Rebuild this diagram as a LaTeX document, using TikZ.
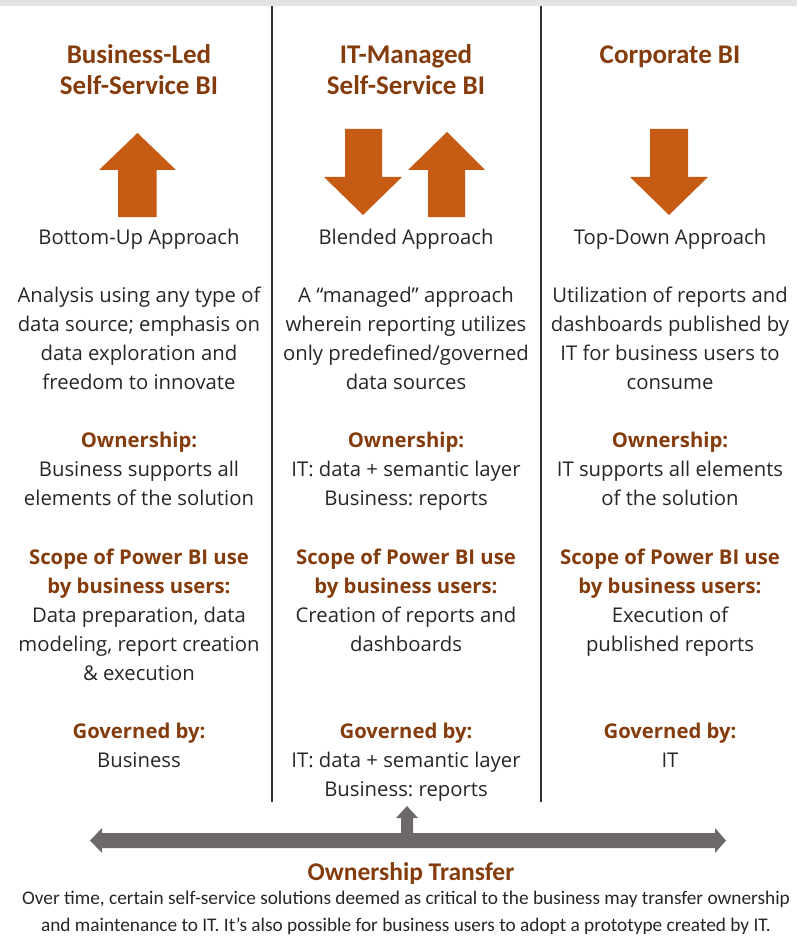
\documentclass[tikz,border=0pt]{standalone}
\usepackage{fontspec}
\setmainfont{Open Sans}
\newfontfamily\titlefont{Carlito}
\frenchspacing
\definecolor{brownT}{HTML}{843C0C}
\definecolor{orangeA}{HTML}{C65B14}
\definecolor{grayA}{HTML}{6D696A}
\definecolor{bodyT}{HTML}{262626}
\definecolor{bandG}{HTML}{E3E3E3}
\begin{document}
\begin{tikzpicture}[x=1pt,y=-1pt,
  title/.style={font=\titlefont\bfseries\fontsize{27}{31}\selectfont, text=brownT, align=center, anchor=base, inner sep=0},
  body/.style={font=\frenchspacing\fontsize{20.3}{28.9}\selectfont, text=bodyT, align=center, anchor=base, inner sep=0},
  orangearrow/.style={fill=orangeA, draw=none},
  grayarrow/.style={fill=grayA, draw=none},
  divider/.style={draw=black!80, line width=1.5pt},
  foot/.style={font=\titlefont\fontsize{19.3}{27}\selectfont, text=bodyT, align=center, anchor=base, inner sep=0}
]
\useasboundingbox (0,0) rectangle (797,936);
\fill[bandG] (0,0) rectangle (797,6);
% dividers
\coordinate (d1t) at (272,6); \coordinate (d1b) at (272,802);
\coordinate (d2t) at (541,6); \coordinate (d2b) at (541,802);
\draw[divider] (d1t) -- (d1b);
\draw[divider] (d2t) -- (d2b);
% titles (base = last line)
\node[title] (t1) at (139,95) {Business-Led\\Self-Service BI};
\node[title] (t2) at (406,95) {IT-Managed\\Self-Service BI};
\node[title] (t3) at (670,64) {Corporate BI};
% orange arrows
\fill[orangearrow] (137.5,133) -- (176,170) -- (156.5,170) -- (156.5,217) -- (118,217) -- (118,170) -- (99,170) -- cycle;
\fill[orangearrow] (345,129) -- (382,129) -- (382,177) -- (402,177) -- (363,215) -- (324,177) -- (345,177) -- cycle;
\fill[orangearrow] (447,132) -- (485,170) -- (465,170) -- (465,217) -- (428,217) -- (428,170) -- (408,170) -- cycle;
\fill[orangearrow] (650,129) -- (688,129) -- (688,177) -- (708,177) -- (669,215) -- (630,177) -- (650,177) -- cycle;
% approaches
\node[body] (a1) at (139,244) {Bottom-Up Approach};
\node[body] (a2) at (406,244) {Blended Approach};
\node[body] (a3) at (670,244) {Top-Down Approach};
% descriptions (base = last line)
\node[body] (s1) at (139,389) {Analysis using any type of\\data source; emphasis on\\data exploration and\\freedom to innovate};
\node[body] (s2) at (406,389) {A “managed” approach\\wherein reporting utilizes\\only predefined/governed\\data sources};
\node[body] (s3) at (670,389) {Utilization of reports and\\dashboards published by\\IT for business users to\\consume};
% ownership
\node[body] (o1) at (139,505) {{\bfseries\color{brownT}Ownership:}\\Business supports all\\elements of the solution};
\node[body] (o2) at (406,505) {{\bfseries\color{brownT}Ownership:}\\IT: data + semantic layer\\Business: reports};
\node[body] (o3) at (670,505) {{\bfseries\color{brownT}Ownership:}\\IT supports all elements\\of the solution};
% scope
\node[body] (c1) at (139,680) {{\bfseries\color{brownT}Scope of Power BI use}\\{\bfseries\color{brownT}by business users:}\\Data preparation, data\\modeling, report creation\\\& execution};
\node[body] (c2) at (406,651) {{\bfseries\color{brownT}Scope of Power BI use}\\{\bfseries\color{brownT}by business users:}\\Creation of reports and\\dashboards};
\node[body] (c3) at (670,651) {{\bfseries\color{brownT}Scope of Power BI use}\\{\bfseries\color{brownT}by business users:}\\Execution of\\published reports};
% governed
\node[body] (g1) at (139,767) {{\bfseries\color{brownT}Governed by:}\\Business};
\node[body] (g2) at (406,796) {{\bfseries\color{brownT}Governed by:}\\IT: data + semantic layer\\Business: reports};
\node[body] (g3) at (670,767) {{\bfseries\color{brownT}Governed by:}\\IT};
% gray double arrow with up arrow
\fill[grayarrow] (90,840.5) -- (102,828) -- (102,833) -- (401,833) -- (401,818) -- (396,818) -- (407,806) -- (418,818) -- (413,818) -- (413,833) -- (715,833) -- (715,828) -- (726,840.5) -- (715,853) -- (715,848) -- (102,848) -- (102,853) -- cycle;
% ownership transfer
\node[title, font=\titlefont\bfseries\fontsize{25.5}{27}\selectfont] (ot) at (411,880) {Ownership Transfer};
\node[foot] (ft) at (406,931) {Over time, certain self-service solutions deemed as critical to the business may transfer ownership\\and maintenance to IT. It’s also possible for business users to adopt a prototype created by IT.};
\end{tikzpicture}
\end{document}
